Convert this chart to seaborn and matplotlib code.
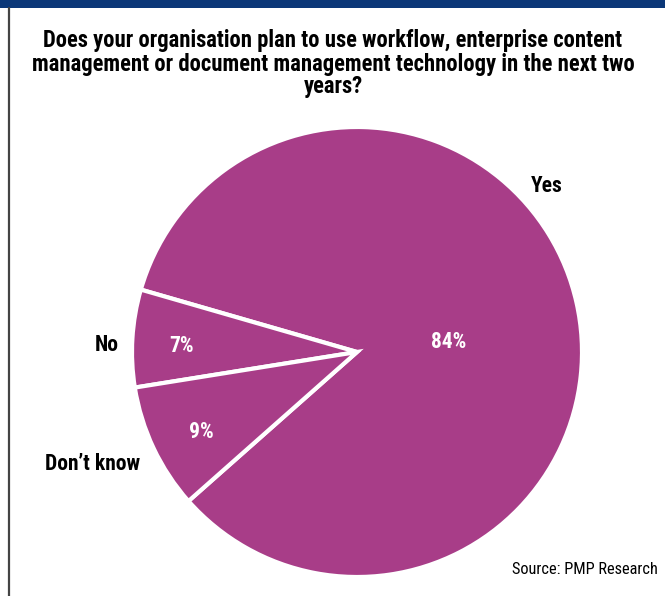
import matplotlib
matplotlib.use("Agg")
import matplotlib.pyplot as plt
import seaborn as sns

categories = ["Yes", "No", "Don\u2019t know"]
values = [84, 7, 9]
pct_labels = ["84%", "7%", "9%"]
title = ("Does your organisation plan to use workflow, enterprise content\n"
         "management or document management technology in the next two\n"
         "years?")
source = "Source: PMP Research"

sns.set_theme(style="white")
plt.rcParams["font.family"] = ["Roboto Condensed", "DejaVu Sans"]

purple = "#A83D88"
fig = plt.figure(figsize=(6.65, 5.96), dpi=100)
fig.patch.set_facecolor("white")

# top band and left border
fig.add_artist(plt.Rectangle((0, 1 - 8 / 596), 1, 8 / 596, transform=fig.transFigure,
                             color="#0B3778", lw=0))
fig.add_artist(plt.Line2D([9 / 665, 9 / 665], [0, 1 - 8 / 596], transform=fig.transFigure,
                          color="#444444", lw=1.6))

# pie axes: center (357,352), radius 225 px
r = 225
cx, cy = 357, 596 - 352
ax = fig.add_axes([(cx - r) / 665, (cy - r) / 596, 2 * r / 665, 2 * r / 596])
wedges, _ = ax.pie(values, startangle=-138.5, colors=[purple] * 3,
                   wedgeprops=dict(edgecolor="white", linewidth=3),
                   radius=1)
ax.set_xlim(-1, 1)
ax.set_ylim(-1, 1)
ax.set_aspect("equal")
ax.axis("off")

label_pos = [(0.844, 0.738), (-1.11, 0.03), (-1.175, -0.50)]
pct_pos = [(0.409, 0.044), (-0.778, 0.027), (-0.693, -0.356)]
for lab, (x, y) in zip(categories, label_pos):
    ax.text(x, y, lab, ha="center", va="center", fontsize=15.5, fontweight="bold",
            color="black", clip_on=False)
for lab, (x, y) in zip(pct_labels, pct_pos):
    ax.text(x, y, lab, ha="center", va="center", fontsize=15.5, fontweight="bold",
            color="white")

fig.text(333 / 665, 1 - 64 / 596, title, ha="center", va="center", fontsize=16.3,
         fontweight="bold", linespacing=1.0, color="black")
fig.text(658 / 665, 1 - 569 / 596, source, ha="right", va="center", fontsize=11.8,
         color="black")

fig.savefig("out.png", dpi=100)
